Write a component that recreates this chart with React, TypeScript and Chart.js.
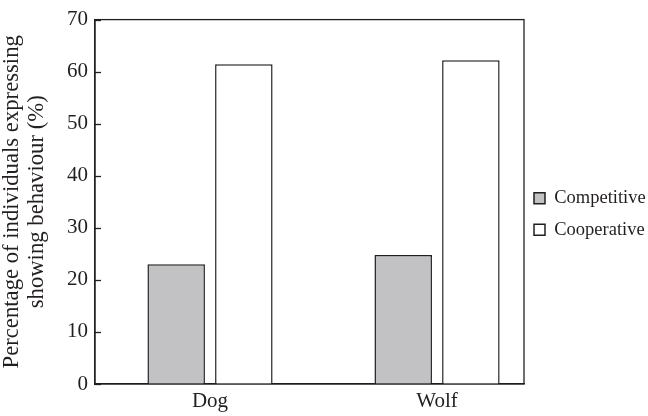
import React, { useEffect, useRef } from "react";
import { Chart, registerables } from "chart.js";

Chart.register(...registerables);

const categories = ["Dog", "Wolf"];
const categoryPositions = [1, 2];
const competitive = [23.0, 24.8];
const cooperative = [61.4, 62.2];
const yTicks = [0, 10, 20, 30, 40, 50, 60, 70];
const seriesNames = ["Competitive", "Cooperative"];
const yTitle = ["Percentage of individuals expressing", "showing behaviour (%)"];

const FONT = "'Liberation Serif', 'Times New Roman', serif";
const INK = "#231f20";

const framePlugin = {
  id: "frame",
  beforeLayout(chart: any) {
    const lg = chart.legend;
    if (lg && !lg._fixedWidth) {
      const orig = lg.fit.bind(lg);
      lg.fit = function () {
        orig();
        this.width = 122;
      };
      lg._fixedWidth = true;
    }
  },
  afterLayout(chart: any) {
    const lg = chart.legend;
    if (lg) {
      lg.left -= 3;
      lg.right = chart.width;
      lg.width = lg.right - lg.left;
    }
  },
  afterDraw(chart: any) {
    const { ctx, chartArea } = chart;
    const ys = chart.scales.y;
    ctx.save();
    ctx.strokeStyle = INK;
    ctx.lineWidth = 1.3;
    ctx.strokeRect(chartArea.left, chartArea.top, chartArea.right - chartArea.left, chartArea.bottom - chartArea.top);
    yTicks.forEach((v) => {
      const py = Math.round(ys.getPixelForValue(v)) + 0.5;
      ctx.beginPath();
      ctx.moveTo(chartArea.left, py);
      ctx.lineTo(chartArea.left + 6, py);
      ctx.stroke();
    });
    ctx.restore();
  },
};

export default function App() {
  const ref = useRef<HTMLCanvasElement | null>(null);
  useEffect(() => {
    if (!ref.current) return;
    const chart = new Chart(ref.current, {
      type: "bar",
      data: {
        datasets: [
          {
            label: seriesNames[0],
            data: categoryPositions.map((x, i) => ({ x, y: competitive[i] })),
            backgroundColor: "#c2c2c4",
            borderColor: INK,
            borderWidth: 1.5,
            categoryPercentage: 0.596,
            barPercentage: 0.85,
          },
          {
            label: seriesNames[1],
            data: categoryPositions.map((x, i) => ({ x, y: cooperative[i] })),
            backgroundColor: "#ffffff",
            borderColor: INK,
            borderWidth: 1.5,
            categoryPercentage: 0.596,
            barPercentage: 0.85,
          },
        ],
      },
      options: {
        animation: false,
        responsive: true,
        maintainAspectRatio: false,
        layout: { padding: { top: 12, right: 2, left: 0, bottom: 0 } },
        plugins: {
          tooltip: { enabled: false },
          legend: {
            position: "right",
            labels: {
              font: { family: FONT, size: 18.5 },
              color: INK,
              boxWidth: 11,
              boxHeight: 11,
              padding: 13,
            },
          },
        },
        scales: {
          x: {
            type: "linear",
            offset: false,
            min: 0.4934,
            max: 2.383,
            grid: { display: false, drawTicks: false, offset: false },
            border: { display: true, color: INK, width: 1.3 },
            afterBuildTicks: (scale: any) => {
              scale.ticks = categoryPositions.map((v) => ({ value: v }));
            },
            afterFit: (scale: any) => {
              scale.height = 32;
            },
            ticks: {
              padding: 5,
              color: INK,
              font: { family: FONT, size: 21 },
              callback: (v: any) => categories[categoryPositions.indexOf(Number(v))] ?? "",
            },
          },
          y: {
            min: 0,
            max: 70,
            grid: { display: false, drawTicks: false },
            border: { display: true, color: INK, width: 1.3 },
            afterBuildTicks: (scale: any) => {
              scale.ticks = yTicks.map((v) => ({ value: v }));
            },
            afterFit: (scale: any) => {
              scale.width = 95;
            },
            ticks: {
              padding: 7,
              color: INK,
              font: { family: FONT, size: 21 },
            },
            title: {
              display: true,
              text: yTitle,
              color: INK,
              font: { family: FONT, size: 22.7, lineHeight: 1.1 },
              padding: { top: 0, bottom: 0 },
            },
          },
        },
      },
      plugins: [framePlugin],
    });
    return () => chart.destroy();
  }, []);
  return (
    <div style={{ position: "fixed", left: 0, top: 0, width: 648, height: 416, background: "#fff" }}>
      <canvas ref={ref} />
    </div>
  );
}
